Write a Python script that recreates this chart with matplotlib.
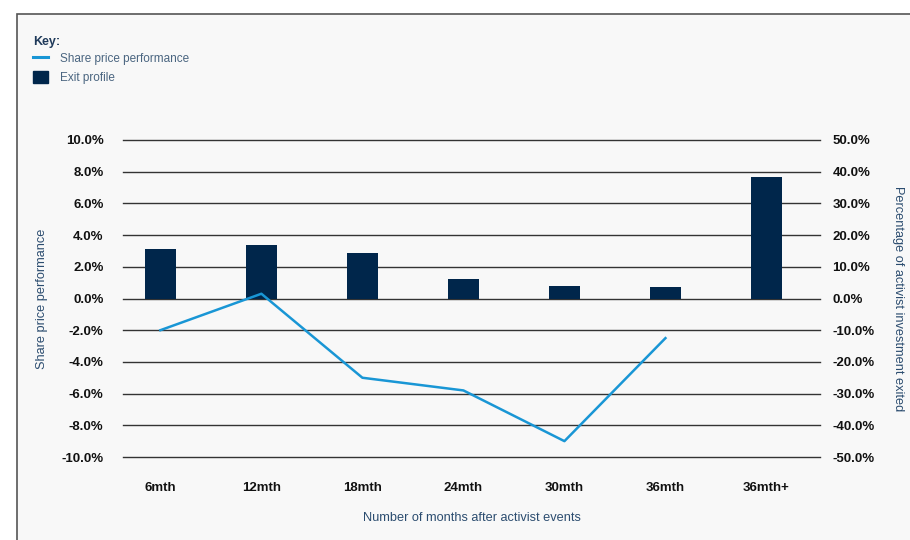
import matplotlib.pyplot as plt
from matplotlib.patches import Rectangle, Patch
from matplotlib.lines import Line2D
from matplotlib.ticker import FuncFormatter

plt.rcParams['font.family'] = ['Liberation Sans', 'DejaVu Sans']

categories = ['6mth', '12mth', '18mth', '24mth', '30mth', '36mth', '36mth+']
exit_profile = [15.5, 17.0, 14.2, 6.0, 4.1, 3.5, 38.2]          # right axis, %
share_price = [-2.0, 0.3, -5.0, -5.8, -9.0, -2.5]                # left axis, %

NAVY = '#00264b'
BLUE = '#1996d5'
LABEL = '#2b4c6f'

fig = plt.figure(figsize=(9.1, 5.4), dpi=100, facecolor='white')
# grey panel with border top/left
fig.patches.append(Rectangle((17 / 910, -0.01), 1.0, 1 - 14 / 540 + 0.01,
                             transform=fig.transFigure, facecolor='#f8f8f8',
                             edgecolor='#555555', linewidth=1.2, zorder=-10))

ax2 = fig.add_axes([123 / 910, 1 - 457 / 540, 697 / 910, 317 / 540])
ax = ax2.twinx()
# swap: line axis on top, left ticks for share price
ax2.yaxis.tick_right()
ax2.yaxis.set_label_position('right')
ax.yaxis.tick_left()
ax.yaxis.set_label_position('left')
ax.set_zorder(ax2.get_zorder() + 1)
ax.patch.set_visible(False)
ax2.patch.set_visible(False)

x = list(range(len(categories)))
ax2.bar(x, exit_profile, width=0.31, color=NAVY, zorder=3)
ax2.set_ylim(-50, 50)
ax2.set_yticks(range(-50, 51, 10))
ax2.yaxis.set_major_formatter(FuncFormatter(lambda v, p: f'{v:.1f}%'))
ax2.grid(axis='y', color='#333333', linewidth=1.0)
for gl in ax2.get_ygridlines():
    gl.set_clip_on(False)
ax2.set_axisbelow(True)

ax.plot(x[:len(share_price)], share_price, color=BLUE, linewidth=1.8)
ax.set_ylim(-10, 10)
ax.set_yticks(range(-10, 11, 2))
ax.yaxis.set_major_formatter(FuncFormatter(lambda v, p: f'{v:.1f}%'))

ax2.set_xlim(-0.37, 6.53)
ax2.set_xticks(x)
ax2.set_xticklabels(categories)

for a in (ax, ax2):
    for s in a.spines.values():
        s.set_visible(False)
    a.tick_params(length=0, labelsize=9.5, labelcolor='#111111')
    for lbl in a.get_yticklabels() + a.get_xticklabels():
        lbl.set_fontweight('bold')
ax.tick_params(axis='y', pad=14)
ax2.tick_params(axis='y', pad=9)
ax2.tick_params(axis='x', pad=18)

ax.set_ylabel('Share price performance', color=LABEL, fontsize=9.2, labelpad=10)
ax2.set_ylabel('Percentage of activist investment exited', color=LABEL,
               fontsize=9.2, rotation=270, labelpad=21)
ax2.set_xlabel('Number of months after activist events', color=LABEL,
               fontsize=9.2, labelpad=13)

fig.text(33 / 910, 1 - 42 / 540, 'Key:', fontsize=9, fontweight='bold',
         color='#1f3a5a', va='center')
handles = [Line2D([0], [0], color=BLUE, linewidth=2.2),
           Patch(facecolor=NAVY, edgecolor=NAVY)]
leg = fig.legend(handles, ['Share price performance', 'Exit profile'],
                 loc='upper left', bbox_to_anchor=(22 / 910, 1 - 41 / 540),
                 frameon=False, fontsize=8.5, handlelength=1.3, handleheight=1.2,
                 handletextpad=1.0, labelspacing=0.55)
for t in leg.get_texts():
    t.set_color('#4a6580')

fig.savefig('out.png', dpi=100)
